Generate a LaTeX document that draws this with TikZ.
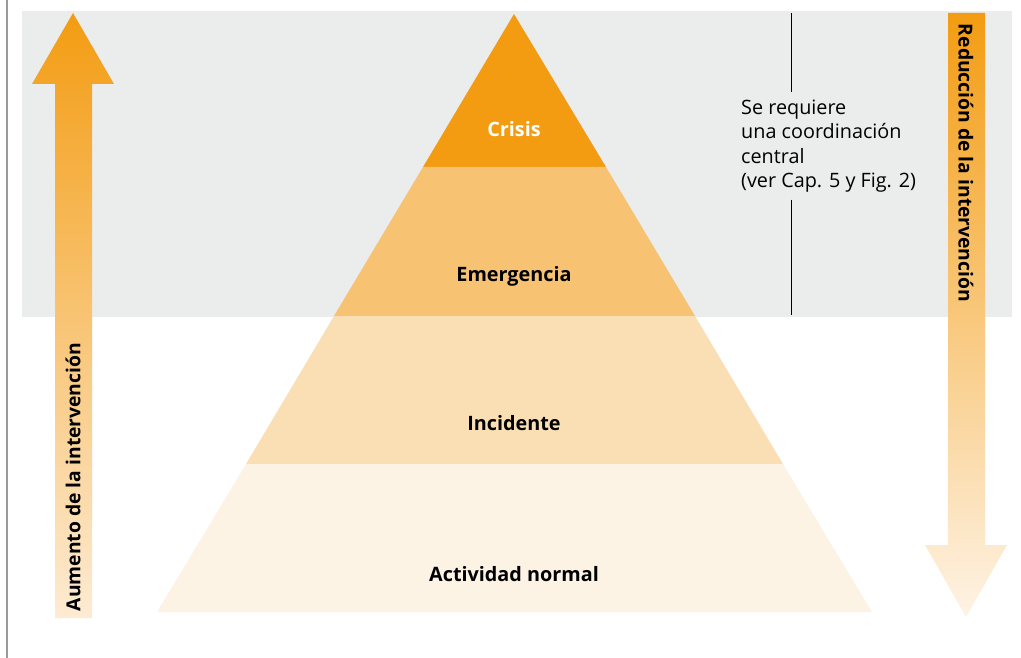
\documentclass[tikz,border=0pt]{standalone}
\usepackage{fontspec}
\setmainfont{Open Sans}
\usetikzlibrary{positioning}

\definecolor{bandgray}{HTML}{EBECEC}
\definecolor{framegray}{HTML}{9A9A9A}
\definecolor{crisisfill}{HTML}{F39C12}
\definecolor{emergfill}{HTML}{F7C272}
\definecolor{incifill}{HTML}{FADFB5}
\definecolor{normalfill}{HTML}{FDF3E4}
\definecolor{arrowtop}{HTML}{F39C12}
\definecolor{arrowlow}{HTML}{FDEBD3}
\definecolor{arrowlowr}{HTML}{FEF3E5}

\tikzset{
  level/.style={font=\fontsize{19.8}{22}\selectfont\bfseries, text=black},
  arrowtext/.style={font=\fontsize{19.3}{22}\selectfont\bfseries, text=black},
  note/.style={font=\fontsize{19.8}{24.5}\selectfont, align=left, inner sep=7pt}
}

\begin{document}
\begin{tikzpicture}[x=1pt,y=-1pt]
  \useasboundingbox (0,0) rectangle (1021,658);

  % background band and frame
  \fill[bandgray] (22,11) rectangle (1012,317);
  \draw[framegray, line width=1.3pt] (7,0) -- (7,658);

  % pyramid
  \fill[crisisfill] (514,14) -- (606,167) -- (423,167) -- cycle;
  \fill[emergfill] (423,167) -- (606,167) -- (695,316) -- (334,316) -- cycle;
  \fill[incifill] (334,316) -- (695,316) -- (783,464) -- (246,464) -- cycle;
  \fill[normalfill] (246,464) -- (783,464) -- (872,612) -- (157,612) -- cycle;

  \node[level, text=white] (crisis) at (514,129) {Crisis};
  \node[level] (emerg) at (514,276) {Emergencia};
  \node[level] (inci) at (514,423) {Incidente};
  \node[level] (normal) at (514,574) {Actividad normal};

  % arrows
  \shade[top color=arrowtop, bottom color=arrowlow]
    (73,13) -- (114,84) -- (92,84) -- (92,618) -- (55,618) -- (55,84) -- (32,84) -- cycle;
  \shade[top color=arrowtop, bottom color=arrowlowr]
    (948,13) -- (985,13) -- (985,545) -- (1007,545) -- (966,617) -- (925,545) -- (948,545) -- cycle;

  \node[arrowtext, rotate=90] (up) at (73,477) {Aumento de la intervención};
  \node[arrowtext, rotate=-90] (down) at (966,163) {Reducción de la intervención};

  % note on central coordination
  \node[note, anchor=west] (coord) at (734,146)
    {Se requiere\\una coordinación\\central\\(ver Cap. 5 y Fig. 2)};
  \coordinate (ltop) at (791,13);
  \coordinate (lbot) at (791,315);
  \draw[black, line width=0.8pt] (ltop) -- (ltop |- coord.north);
  \draw[black, line width=0.8pt] (lbot |- coord.south) -- (lbot);
\end{tikzpicture}
\end{document}
